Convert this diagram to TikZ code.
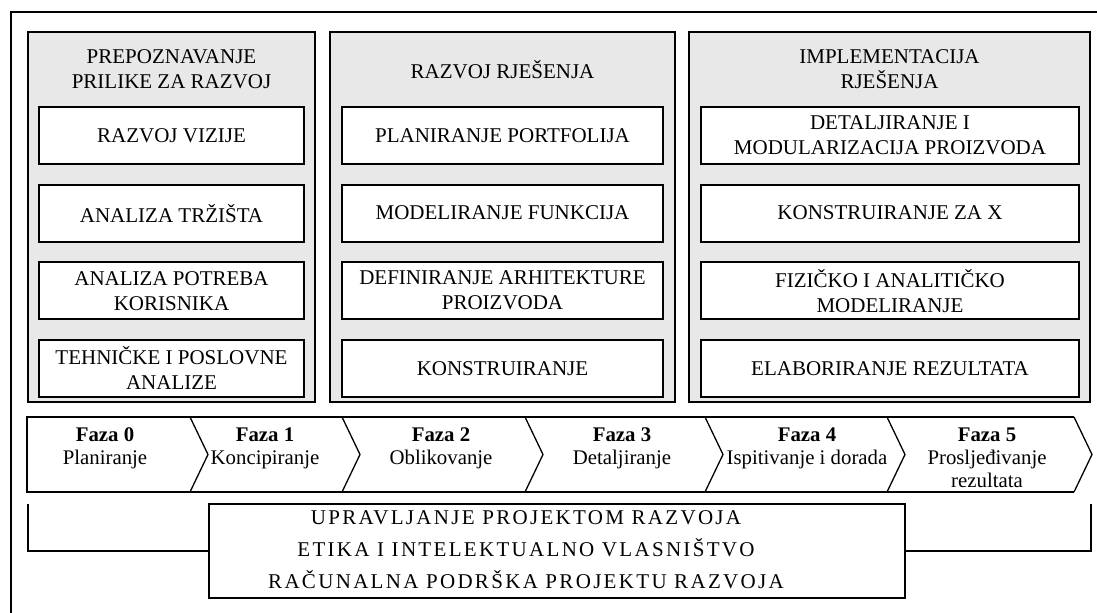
\documentclass[tikz,border=0pt]{standalone}
\usepackage{fontspec}
\setmainfont{Liberation Serif}
\usepackage{xcolor}
\usetikzlibrary{positioning}
\definecolor{panelgray}{RGB}{232,232,232}

\begin{document}
\begin{tikzpicture}[x=0.5pt,y=-0.5pt,node distance=9.3pt,
  font=\fontsize{10.5}{12.5}\selectfont]
  \tikzstyle{panel}=[draw,line width=0.65pt,fill=panelgray,minimum height=185pt]
  \tikzstyle{task}=[draw,line width=1pt,fill=white,minimum height=28.5pt,align=center,inner sep=1pt]
  \tikzstyle{title}=[align=center,inner sep=0pt]
  \tikzstyle{phase}=[align=center,anchor=north,inner sep=0pt,font=\fontsize{10.4}{11.5}\selectfont]
  \useasboundingbox (0,0) rectangle (1097,612);
  \clip (0,0) rectangle (1097,612);
  \draw[line width=0.65pt] (11,12) rectangle (1130,640);

  % panels
  \node[panel,minimum width=143.5pt] (prilika)        at (171.5,217) {};
  \node[panel,minimum width=172.5pt] (rjesenje)       at (502.5,217) {};
  \node[panel,minimum width=200.5pt] (implementacija) at (889.5,217) {};

  \node[title] (prilikaT)        at (171.5,69.5) {PREPOZNAVANJE\\PRILIKE ZA RAZVOJ};
  \node[title] (rjesenjeT)       at (502.5,69.5) {RAZVOJ RJEŠENJA};
  \node[title] (implementacijaT) at (889.5,69.5) {IMPLEMENTACIJA\\RJEŠENJA};

  % tasks
  \node[task,minimum width=132.5pt] (vizija)   at (171.5,135.5) {RAZVOJ VIZIJE};
  \node[task,minimum width=132.5pt] (trziste)  [below=of vizija]  {ANALIZA TRŽIŠTA};
  \node[task,minimum width=132.5pt] (potrebe)  [below=of trziste] {ANALIZA POTREBA\\KORISNIKA};
  \node[task,minimum width=132.5pt] (analize)  [below=of potrebe] {TEHNIČKE I POSLOVNE\\ANALIZE};

  \node[task,minimum width=160.5pt] (portfolio)     at (502.5,135.5) {PLANIRANJE PORTFOLIJA};
  \node[task,minimum width=160.5pt] (funkcije)      [below=of portfolio]   {MODELIRANJE FUNKCIJA};
  \node[task,minimum width=160.5pt] (arhitektura)   [below=of funkcije]    {DEFINIRANJE ARHITEKTURE\\PROIZVODA};
  \node[task,minimum width=160.5pt] (konstruiranje) [below=of arhitektura] {KONSTRUIRANJE};

  \node[task,minimum width=189pt] (moduli)      at (890,135.5) {DETALJIRANJE I\\MODULARIZACIJA PROIZVODA};
  \node[task,minimum width=189pt] (dfx)         [below=of moduli]      {KONSTRUIRANJE ZA X};
  \node[task,minimum width=189pt] (modeliranje) [below=of dfx]         {FIZIČKO I ANALITIČKO\\MODELIRANJE};
  \node[task,minimum width=189pt] (elaboracija) [below=of modeliranje] {ELABORIRANJE REZULTATA};

  % phases
  \draw[line width=0.65pt] (1074,417) -- (27,417) -- (27,492) -- (1074,492);
  \foreach \b in {190,342,525,705,887,1074}
    \draw[line width=0.65pt] (\b,417) -- ++(18,37.5) -- (\b,492);

  \node[phase] (faza0) at (105,427) {\textbf{Faza 0}\\Planiranje};
  \node[phase] (faza1) at (265,427) {\textbf{Faza 1}\\Koncipiranje};
  \node[phase] (faza2) at (441,427) {\textbf{Faza 2}\\Oblikovanje};
  \node[phase] (faza3) at (622,427) {\textbf{Faza 3}\\Detaljiranje};
  \node[phase] (faza4) at (807,427) {\textbf{Faza 4}\\Ispitivanje i dorada};
  \node[phase] (faza5) at (987,427) {\textbf{Faza 5}\\Prosljeđivanje\\rezultata};

  % support
  \node[draw,line width=1pt,minimum width=348pt,minimum height=47pt] (podrska) at (557,551) {};
  \node[align=center,font=\fontsize{10.5}{16}\selectfont\addfontfeatures{LetterSpace=11}] (etika) at (526,550)
    {UPRAVLJANJE PROJEKTOM RAZVOJA\\ETIKA I INTELEKTUALNO VLASNIŠTVO\\RAČUNALNA PODRŠKA PROJEKTU RAZVOJA};
  \coordinate (lijevo) at (28,504);
  \coordinate (desno)  at (1091,504);
  \draw[line width=0.8pt] (lijevo) |- (podrska.west);
  \draw[line width=0.8pt] (desno)  |- (podrska.east);
\end{tikzpicture}
\end{document}
